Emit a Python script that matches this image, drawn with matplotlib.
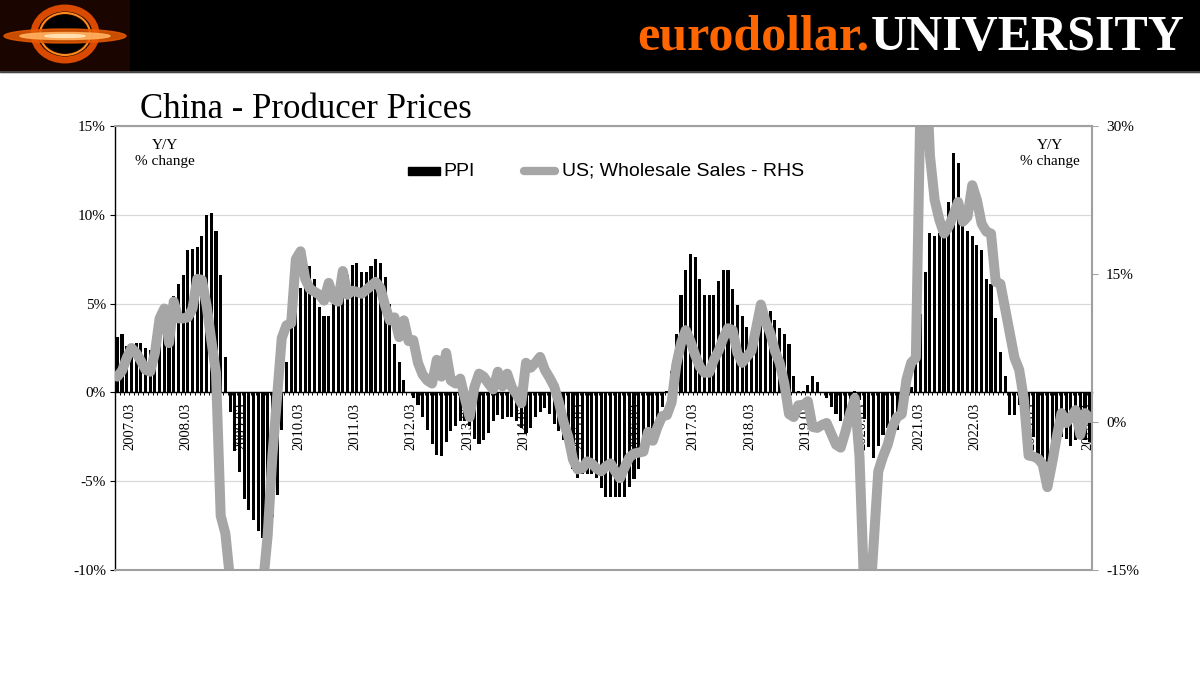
import matplotlib
matplotlib.use('Agg')
import matplotlib.pyplot as plt
import matplotlib.transforms as mtransforms
from matplotlib.patches import Rectangle, Ellipse
from matplotlib.lines import Line2D
import numpy as np
import pandas as pd

# monthly categories, Dec 2006 .. Mar 2024
months = pd.period_range('2006-12', '2024-03', freq='M')

# China PPI, Y/Y % (left axis)
ppi = [3.1,
       3.3, 2.6, 2.7, 2.8, 2.8, 2.5, 2.4, 2.6, 2.7, 3.2, 4.6, 5.4,
       6.1, 6.6, 8.0, 8.1, 8.2, 8.8, 10.0, 10.1, 9.1, 6.6, 2.0, -1.1,
       -3.3, -4.5, -6.0, -6.6, -7.2, -7.8, -8.2, -7.9, -7.0, -5.8, -2.1, 1.7,
       4.3, 5.4, 5.9, 6.8, 7.1, 6.4, 4.8, 4.3, 4.3, 5.0, 6.1, 5.9,
       6.6, 7.2, 7.3, 6.8, 6.8, 7.1, 7.5, 7.3, 6.5, 5.0, 2.7, 1.7,
       0.7, 0.0, -0.3, -0.7, -1.4, -2.1, -2.9, -3.5, -3.6, -2.8, -2.2, -1.9,
       -1.6, -1.6, -1.9, -2.6, -2.9, -2.7, -2.3, -1.6, -1.3, -1.5, -1.4, -1.4,
       -1.6, -2.0, -2.3, -2.0, -1.4, -1.1, -0.9, -1.2, -1.8, -2.2, -2.7, -3.3,
       -4.3, -4.8, -4.6, -4.6, -4.6, -4.8, -5.4, -5.9, -5.9, -5.9, -5.9, -5.9,
       -5.3, -4.9, -4.3, -3.4, -2.8, -2.6, -1.7, -0.8, 0.1, 1.2, 3.3, 5.5,
       6.9, 7.8, 7.6, 6.4, 5.5, 5.5, 5.5, 6.3, 6.9, 6.9, 5.8, 4.9,
       4.3, 3.7, 3.1, 3.4, 4.1, 4.7, 4.6, 4.1, 3.6, 3.3, 2.7, 0.9,
       0.1, 0.1, 0.4, 0.9, 0.6, 0.0, -0.3, -0.8, -1.2, -1.6, -1.4, -0.5,
       0.1, -0.4, -1.5, -3.1, -3.7, -3.0, -2.4, -2.0, -2.1, -2.1, -1.5, -0.4,
       0.3, 1.7, 4.4, 6.8, 9.0, 8.8, 9.0, 9.5, 10.7, 13.5, 12.9, 10.3,
       9.1, 8.8, 8.3, 8.0, 6.4, 6.1, 4.2, 2.3, 0.9, -1.3, -1.3, -0.7,
       -0.8, -1.4, -2.5, -3.6, -4.6, -5.4, -4.4, -3.0, -2.5, -2.6, -3.0, -2.7,
       -2.5, -2.7, -2.8]

# US wholesale sales, Y/Y % (right axis)
wholesale = [4.6, 5.2, 6.5, 7.5, 7.0, 6.2, 5.3, 5.1, 7.0, 10.5, 11.5, 8.0,
             12.2, 10.5, 10.5, 10.6, 11.5, 14.5, 14.4, 11.8, 8.3, 5.0, -9.5, -11.3,
             -16.0, -19.0, -21.0, -22.0, -22.0, -21.0, -19.0, -16.5, -11.5, -3.5, 2.5, 8.5,
             9.8, 10.0, 16.5, 17.3, 14.5, 13.5, 13.2, 12.9, 12.3, 14.1, 12.5, 12.2,
             15.3, 12.9, 13.3, 13.2, 13.0, 13.4, 13.8, 14.2, 13.6, 11.8, 10.3, 10.6,
             8.6, 10.3, 8.2, 8.3, 6.0, 4.8, 4.2, 3.9, 6.3, 4.6, 7.0, 4.2,
             3.9, 4.4, 2.4, 0.5, 3.5, 4.9, 4.6, 3.9, 3.3, 5.1, 3.6, 4.9,
             3.5, 2.8, 1.9, 6.0, 5.5, 6.0, 6.6, 5.3, 4.5, 3.6, 2.0, 0.0,
             -1.5, -3.8, -4.8, -4.7, -4.0, -4.2, -4.7, -5.0, -4.5, -4.2, -5.0, -5.7,
             -4.6, -3.6, -3.2, -3.1, -3.0, -1.0, -1.9, -0.5, 0.6, 0.7, 2.0, 5.8,
             8.0, 9.3, 8.2, 6.8, 5.6, 5.0, 5.0, 6.3, 7.2, 8.5, 9.5, 9.3,
             7.0, 6.0, 6.6, 7.2, 9.5, 11.9, 10.2, 9.0, 7.2, 6.0, 3.9, 0.8,
             0.5, 1.7, 1.7, 2.1, -0.5, -0.6, -0.3, -0.1, -1.2, -2.3, -2.6, -1.0,
             0.9, 2.4, -3.5, -17.0, -20.0, -12.5, -5.0, -3.5, -2.3, -0.5, 0.5, 0.8,
             4.3, 6.0, 6.5, 33.0, 38.0, 27.0, 22.5, 20.5, 19.1, 19.8, 21.0, 22.3,
             20.3, 20.8, 24.0, 22.5, 20.1, 19.3, 19.1, 14.2, 14.0, 11.5, 9.0, 6.5,
             5.3, 2.3, -3.4, -3.5, -3.7, -4.3, -6.6, -4.2, -1.5, 0.9, -0.1, 0.5,
             1.2, -1.3, 0.9, 0.4]

tick_labels = ['2007.03', '2008.03', '2009.03', '2010.03', '2011.03', '2012.03',
               '2013.03', '2014.03', '2015.03', '2016.03', '2017.03', '2018.03',
               '2019.03', '2020.03', '2021.03', '2022.03', '2023.03', '2024.03']

left_ticks = [-10, -5, 0, 5, 10, 15]
right_ticks = [-15, 0, 15, 30]

plt.rcParams['font.family'] = 'Liberation Serif'

W, H = 1200, 675
fig = plt.figure(figsize=(12, 6.75), dpi=100)


def fx(px):
    return px / W


def fy(py):
    return 1 - py / H


# header band
fig.add_artist(Rectangle((0, fy(72)), 1, 72 / H, transform=fig.transFigure,
                         color='black', zorder=0))
fig.add_artist(Line2D([0, 1], [fy(72), fy(72)], transform=fig.transFigure,
                      color='#555555', lw=1.2))

# logo (rough drawing)
lax = fig.add_axes([0, fy(72), fx(130), 72 / H])
lax.set_facecolor('#1a0500')
lax.set_xlim(0, 130)
lax.set_ylim(0, 72)
lax.set_xticks([])
lax.set_yticks([])
for s in lax.spines.values():
    s.set_visible(False)
lax.add_patch(Ellipse((65, 38), 62, 52, fill=False, ec='#d94a00', lw=5))
lax.add_patch(Ellipse((65, 38), 50, 42, fill=False, ec='#ff8c1a', lw=1.5))
lax.add_patch(Ellipse((65, 38), 44, 36, color='black'))
lax.add_patch(Ellipse((65, 36), 122, 14, color='#e85a00', alpha=0.85))
lax.add_patch(Ellipse((65, 36), 90, 7, color='#ffb060', alpha=0.9))
lax.add_patch(Ellipse((65, 36), 40, 3, color='#ffe0b0'))

t_univ = fig.text(fx(1185), fy(50), 'UNIVERSITY', color='white', fontsize=36,
                  fontweight='bold', ha='right', va='baseline')
fig.canvas.draw()
bb = t_univ.get_window_extent()
fig.text((bb.x0 - 2) / W, fy(50), 'eurodollar.', color='#ff6600', fontsize=36,
         fontweight='bold', ha='right', va='baseline')

# title
fig.text(fx(140), fy(118), 'China - Producer Prices', fontsize=25, va='baseline')

# main axes
ax = fig.add_axes([fx(115), fy(570), fx(1092) - fx(115), (570 - 126) / H])
x = np.arange(len(ppi))
ax.bar(x, ppi, width=0.66, color='black', zorder=2)
ax.set_xlim(-0.5, len(ppi) - 0.5)
ax.set_ylim(-10, 15)
ax.set_yticks(left_ticks)
ax.set_yticklabels([f'{v}%' for v in left_ticks], fontsize=11)
ax.set_axisbelow(True)
ax.grid(axis='y', color='#d9d9d9', lw=0.9)
ax.spines['bottom'].set_position(('data', 0))
ax.spines['bottom'].set_color('black')
ax.spines['bottom'].set_linewidth(1.0)
ax.spines['top'].set_visible(False)
ax.spines['right'].set_visible(False)
ax.spines['left'].set_color('black')
ax.spines['left'].set_linewidth(1.0)
ax.set_xticks(np.arange(-0.5, len(ppi), 1))
ax.tick_params(axis='x', length=2.5, width=0.7, labelbottom=False)
ax.tick_params(axis='y', length=3.5, width=0.8, pad=3)

# date labels under the zero line, drawn beneath the bars
off = mtransforms.offset_copy(ax.transData, fig=fig, x=-2, y=-10, units='dots')
month_str = [m.strftime('%Y.%m') for m in months]
for lab in tick_labels:
    pos = month_str.index(lab)
    ax.text(pos, 0, lab, rotation=90, ha='center', va='top', fontsize=10.5,
            transform=off, zorder=1)

# right axis with the wholesale line
ax2 = ax.twinx()
ax2.plot(x, wholesale, color='#a6a6a6', lw=7.2, solid_joinstyle='round',
         solid_capstyle='round')
ax2.set_ylim(-15, 30)
ax2.set_yticks(right_ticks)
ax2.set_yticklabels([f'{v}%' for v in right_ticks], fontsize=11)
ax2.tick_params(axis='y', length=4, width=0.8, pad=6, color='#a6a6a6')
for side in ['top', 'bottom', 'right']:
    ax2.spines[side].set_color('#a0a0a0')
    ax2.spines[side].set_linewidth(1.5)
ax2.spines['left'].set_visible(False)

# axis notes
for cx in [165, 1050]:
    fig.text(fx(cx), fy(149), 'Y/Y', fontsize=11, ha='center', va='baseline')
    fig.text(fx(cx), fy(165), '% change', fontsize=11, ha='center', va='baseline')

# legend
fig.add_artist(Rectangle((fx(408), fy(175)), fx(440) - fx(408), 8 / H,
                         transform=fig.transFigure, color='black'))
fig.text(fx(443), fy(171), 'PPI', family='Liberation Sans', fontsize=14, va='center')
fig.add_artist(Line2D([fx(524), fx(555)], [fy(171), fy(171)], transform=fig.transFigure,
                      color='#a6a6a6', lw=6, solid_capstyle='round'))
fig.text(fx(562), fy(171), 'US; Wholesale Sales - RHS', family='Liberation Sans',
         fontsize=14, va='center')

fig.savefig('out.png', dpi=100)
